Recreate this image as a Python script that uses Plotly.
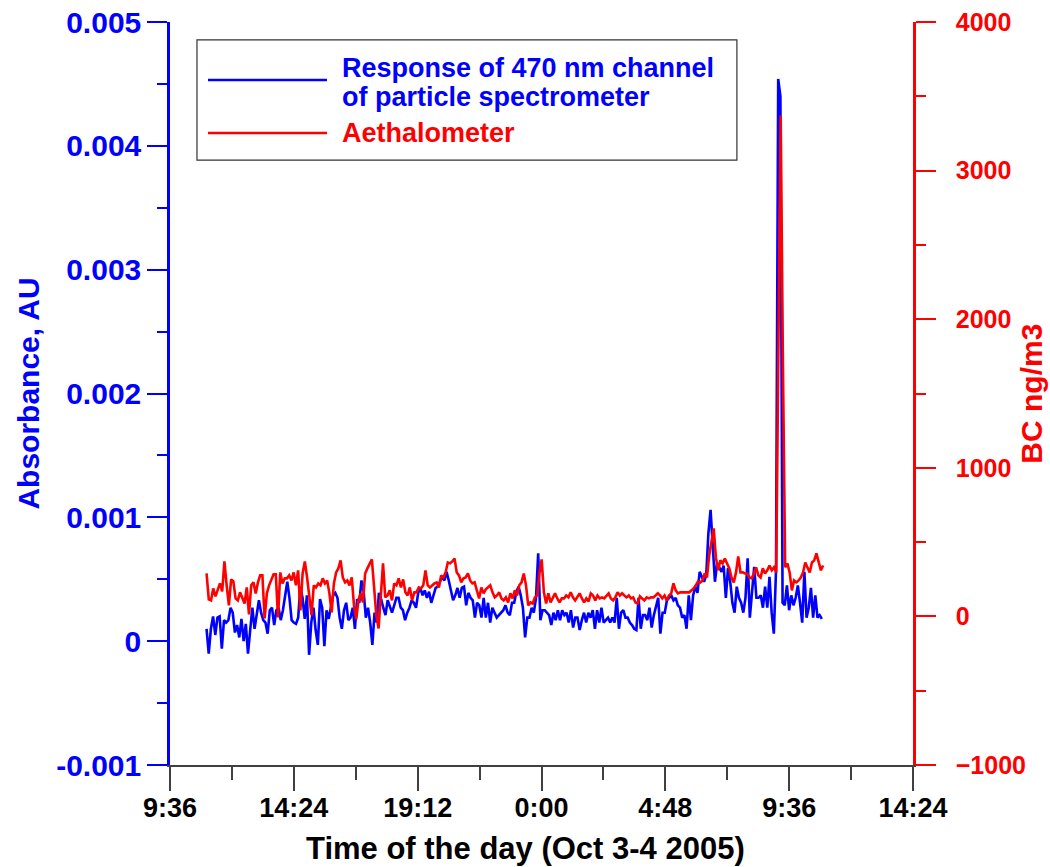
import plotly.graph_objects as go
import pandas as pd

# ---------------- data ----------------
# Response of 470 nm channel of particle spectrometer, in units of 1e-4 AU
absorbance_e4 = [
    1.0, -1.0, 1.0, 2.0, 0.5, 1.9, 2.0, -0.6, 1.7, 1.5, 1.7, 2.7, 2.3, 0.7, 1.3, 0.3, 1.8, 0.0, 1.4, -1.0,
    0.9, 2.7, 1.0, 2.1, 3.3, 2.3, 1.7, 1.5, 0.6, 2.5, 2.7, 1.3, 2.5, 2.7, 1.7, 2.5, 3.5, 4.8, 3.5, 1.7,
    1.5, 1.4, 1.9, 4.4, 3.5, 1.8, 3.7, -1.1, 1.5, 2.7, 0.9, -0.3, 3.4, 2.7,
    -0.4, 2.5, 1.8, 2.9, 3.7, 3.9, 3.5, 1.9, 1.0, 2.5, 3.1, 1.7, 1.9, 2.7, 1.0, 3.4, 3.1, 4.9, 4.0, 1.9,
    2.7, 1.5, -0.3, 2.3, 1.5, 3.9, 3.4, 2.7, 2.1, 3.3, 2.7, 2.3, 2.9, 3.5, 3.5, 2.7, 2.5, 1.7, 2.3, 2.7,
    3.3, 3.1, 2.7, 3.9, 4.3, 3.7, 4.1, 3.5, 4.0, 3.1, 3.7, 4.3, 4.4, 4.8, 5.2, 4.9, 5.6,
    4.9, 4.1, 3.3, 3.7, 4.3, 3.5, 4.3, 4.4, 2.9, 3.9, 3.5, 3.3, 1.9, 3.1, 2.9, 1.9, 3.5, 1.9, 3.1, 1.5,
    2.7, 2.3, 1.9, 2.1, 2.3, 2.5, 2.9, 2.3, 2.1, 3.1, 3.1, 4.0, 4.4, 3.7, 2.7, 0.3, 1.9, 1.9, 2.7, 2.3,
    3.5, 7.1, 1.7, 2.5, 2.5, 2.3, 2.1, 1.3, 2.3, 1.7, 2.5, 1.7, 2.5, 2.1, 2.3, 1.5, 2.5,
    1.1, 1.9, 1.9, 0.9, 1.7, 2.3, 1.5, 2.3, 1.9, 2.5, 1.0, 2.5, 1.5, 2.7, 1.5, 1.7, 1.9, 1.5, 1.9, 1.5,
    3.5, 1.0, 2.3, 2.5, 1.9, 1.9, 1.5, 1.3, 1.0, 0.9, 3.5, 1.0, 2.1, 2.1, 1.7, 2.7, 1.1, 2.1, 2.9, 3.5,
    0.6, 2.3, 2.3, 3.3, 3.5, 3.7, 3.3, 3.5, 2.9, 2.7, 1.9, 2.1, 1.0, 3.7, 1.7, 3.7, 4.4,
    3.9, 5.6, 5.2, 4.8, 5.3, 8.7, 10.6, 7.9, 4.8, 6.3, 6.0, 5.6, 6.1, 3.5, 5.9, 4.8, 3.1, 2.3, 4.4, 3.5,
    3.1, 2.3, 3.5, 6.7, 1.9, 3.7, 6.0, 3.5, 3.5, 3.7, 2.7, 4.4, 2.7, 5.2, 2.3, 0.6, 5.7, 45.4, 44.0, 3.1,
    2.9, 4.5, 2.5, 3.7, 2.9, 3.5, 4.5, 3.1, 1.5, 5.6, 1.9, 2.7, 4.3, 1.9, 3.7, 1.9, 2.1, 1.8,
]
absorbance = [v * 1e-4 for v in absorbance_e4]
absorbance_start, absorbance_end = "2005-10-03 11:01", "2005-10-04 10:52"

# Aethalometer black carbon, ng/m3
bc = [
    289, 114, 108, 188, 135, 175, 222, 168, 370, 209, 74, 249, 236, 121, 108, 162, 128, 87, 195, 13,
    209, 229, 155, 229, 276, 276, -13, 155, 209, 242, 283, 283, -7, 296, 222, 256, 256, 276, 242, 296,
    209, 310, 40, 289, 370, 262, 121, 7, 209, 195, 222, 209, 256, 222, 242,
    155, 27, 222, 296, 323, 377, 262, 229, 242, 209, 262, 74, -20, 108, 155, 94, 289, 323, 357, 384,
    195, 7, -81, 162, 357, 128, 141, 175, 108, 222, 209, 256, 195, 249, 162, 141, 195, 108, 162, 162,
    195, 188, 209, 310, 209, 195, 209, 222, 229, 195, 276, 262, 296, 363, 357,
    370, 390, 296, 276, 229, 256, 262, 289, 242, 222, 229, 175, 121, 195, 155, 182, 195, 209, 162, 128,
    141, 162, 121, 108, 128, 94, 155, 121, 175, 141, 209, 229, 289, 209, 74, 94, 87, 128, 141, 289,
    384, 162, 87, 155, 94, 121, 155, 121, 94, 121, 121, 141, 128, 162, 128,
    108, 128, 155, 121, 94, 121, 101, 155, 141, 108, 141, 121, 128, 121, 141, 155, 121, 108, 128, 162,
    141, 155, 141, 128, 141, 121, 128, 94, 87, 135, 121, 108, 128, 121, 128, 128, 141, 155, 141, 121,
    141, 108, 141, 155, 222, 175, 155, 162, 162, 162, 162, 162, 175, 188, 209, 236,
    229, 242, 289, 262, 410, 491, 592, 397, 310, 377, 357, 390, 357, 323, 262, 229, 296, 404, 296, 296,
    289, 289, 262, 256, 289, 330, 276, 262, 323, 289, 310, 343, 310, 330, 296, 1700, 3370, 1700, 330, 357,
    296, 175, 242, 229, 242, 262, 296, 363, 323, 296, 363, 377, 424, 363, 310, 343,
]
bc_start, bc_end = "2005-10-03 11:01", "2005-10-04 10:55"

x_tick_vals = ["2005-10-03 09:36", "2005-10-03 14:24", "2005-10-03 19:12", "2005-10-04 00:00",
               "2005-10-04 04:48", "2005-10-04 09:36", "2005-10-04 14:24"]
x_tick_text = ["9:36", "14:24", "19:12", "0:00", "4:48", "9:36", "14:24"]
x_minor_vals = ["2005-10-03 12:00", "2005-10-03 16:48", "2005-10-03 21:36",
                "2005-10-04 02:24", "2005-10-04 07:12", "2005-10-04 12:00"]
y_left_vals = [-0.001, 0, 0.001, 0.002, 0.003, 0.004, 0.005]
y_left_text = ["-0.001", "0", "0.001", "0.002", "0.003", "0.004", "0.005"]
y_right_vals = [-1000, 0, 1000, 2000, 3000, 4000]

series_names = ["Response of 470 nm channel", "of particle spectrometer", "Aethalometer"]

t_abs = pd.date_range(absorbance_start, absorbance_end, periods=len(absorbance))
t_bc = pd.date_range(bc_start, bc_end, periods=len(bc))

BLUE = "#0000FF"
RED = "#FF0000"
AXC = "#404040"
FONT = "Arial, Liberation Sans, sans-serif"

fig = go.Figure()
fig.add_trace(go.Scatter(x=t_abs, y=absorbance, mode="lines", yaxis="y",
                         line=dict(color=BLUE, width=2.6), showlegend=False))
fig.add_trace(go.Scatter(x=t_bc, y=bc, mode="lines", yaxis="y2",
                         line=dict(color=RED, width=2.6), showlegend=False))

fig.update_layout(
    width=1050, height=867,
    margin=dict(l=170, r=137, t=22, b=102, autoexpand=False),
    paper_bgcolor="white", plot_bgcolor="white",
    font=dict(family=FONT, size=26, color="black", weight="bold"),
    xaxis=dict(
        type="date", range=["2005-10-03 09:36", "2005-10-04 14:24"], automargin=False,
        tickmode="array", tickvals=x_tick_vals, ticktext=x_tick_text,
        ticks="outside", ticklen=24, tickwidth=1.5, tickcolor=AXC,
        showline=True, linecolor=AXC, linewidth=1.5,
        showgrid=False, zeroline=False,
        tickfont=dict(family=FONT, size=27, color="black", weight="bold"),
        ticklabelstandoff=-6,
        minor=dict(ticks="outside", ticklen=13, tickwidth=1.5, tickcolor=AXC,
                   tickmode="array", tickvals=x_minor_vals, showgrid=False),
    ),
    yaxis=dict(
        range=[-0.001, 0.005], automargin=False,
        tickmode="array", tickvals=y_left_vals, ticktext=y_left_text,
        ticks="outside", ticklen=20, tickwidth=1.5, tickcolor=BLUE,
        showline=True, linecolor=BLUE, linewidth=2.5,
        showgrid=False, zeroline=False,
        tickfont=dict(family=FONT, size=30, color=BLUE, weight="bold"),
        minor=dict(ticks="outside", ticklen=10, tickwidth=1.5, tickcolor=BLUE, dtick=0.0005,
                   tick0=0, showgrid=False),
    ),
    yaxis2=dict(
        range=[-1000, 4000], overlaying="y", side="right", anchor="x", automargin=False,
        tickmode="array", tickvals=y_right_vals,
        ticks="outside", ticklen=20, tickwidth=1.5, tickcolor=RED,
        showline=True, linecolor=RED, linewidth=2.5,
        showgrid=False, zeroline=False,
        tickfont=dict(family=FONT, size=25, color=RED, weight="bold"),
        ticklabelstandoff=15,
        minor=dict(ticks="outside", ticklen=10, tickwidth=1.5, tickcolor=RED, dtick=500,
                   tick0=0, showgrid=False),
    ),
)

# axis titles
fig.add_annotation(text="Absorbance, AU", xref="paper", yref="paper", x=-0.191, y=0.5,
                   textangle=-90, showarrow=False, xanchor="center", yanchor="middle",
                   font=dict(family=FONT, size=30, color=BLUE, weight="bold"))
fig.add_annotation(text="BC ng/m3", xref="paper", yref="paper", x=1.159, y=0.5,
                   textangle=-90, showarrow=False, xanchor="center", yanchor="middle",
                   font=dict(family=FONT, size=30, color=RED, weight="bold"))
fig.add_annotation(text="Time of the day (Oct 3-4 2005)", xref="paper", yref="paper",
                   x=0.479, y=-0.112, showarrow=False, xanchor="center", yanchor="middle",
                   font=dict(family=FONT, size=31, color="black", weight="bold"))

# custom legend
fig.add_shape(type="rect", xref="paper", yref="paper", x0=0.0363, x1=0.763, y0=0.814, y1=0.976,
              line=dict(color="#333333", width=1.2), fillcolor="white", layer="above")
fig.add_shape(type="line", xref="paper", yref="paper", x0=0.0511, x1=0.2113, y0=0.922, y1=0.922,
              line=dict(color=BLUE, width=2.6), layer="above")
fig.add_shape(type="line", xref="paper", yref="paper", x0=0.0511, x1=0.2113, y0=0.8506, y1=0.8506,
              line=dict(color=RED, width=2.6), layer="above")
for txt, yy, col in [(series_names[0], 0.9381, BLUE), (series_names[1], 0.8991, BLUE),
                     (series_names[2], 0.8506, RED)]:
    fig.add_annotation(text=txt, xref="paper", yref="paper", x=0.2288, y=yy, showarrow=False,
                       xanchor="left", yanchor="middle",
                       font=dict(family=FONT, size=27, color=col, weight="bold"))

fig.write_html("out.html")
